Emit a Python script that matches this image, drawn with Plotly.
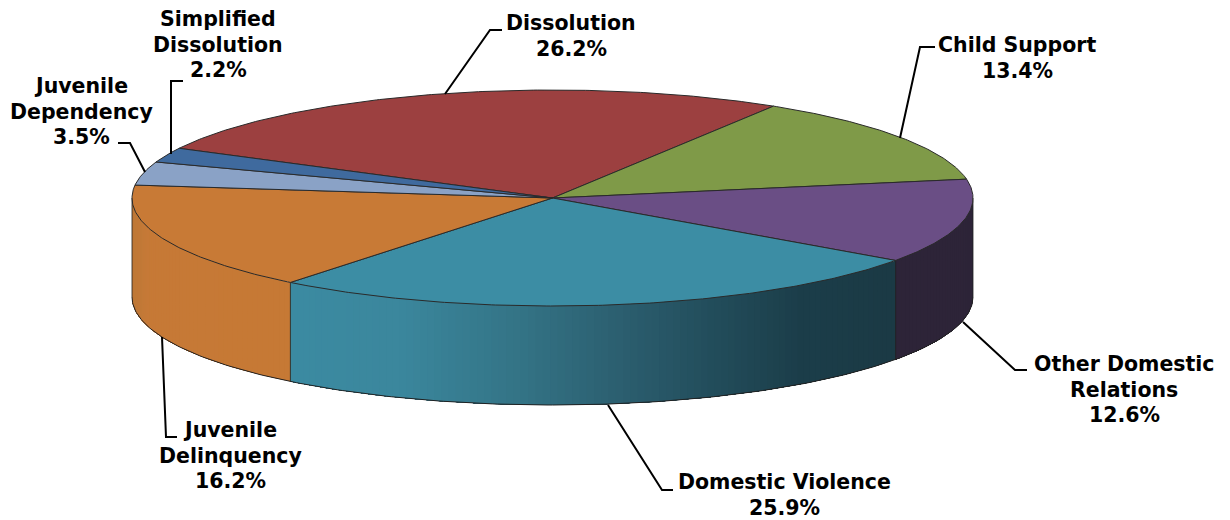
import numpy as np
import plotly.graph_objects as go

# ---- data ----
categories = ["Dissolution", "Child Support", "Other Domestic Relations", "Domestic Violence",
              "Juvenile Delinquency", "Juvenile Dependency", "Simplified Dissolution"]
shares = [26.2, 13.4, 12.6, 25.9, 16.2, 3.5, 2.2]

# ---- styles ----
top_colors = ["#9C4040", "#7F9A48", "#6A4E85", "#3C8DA4", "#C87A36", "#8AA2C6", "#3F6A9E"]
label_lines = [["Dissolution"], ["Child Support"], ["Other Domestic", "Relations"], ["Domestic Violence"],
               ["Juvenile", "Delinquency"], ["Juvenile", "Dependency"], ["Simplified", "Dissolution"]]
label_x = [571, 1017, 1124, 784, 230, 81, 218]
label_y0 = [23, 45, 364, 482, 430, 86, 19]
leaders = [[(445, 94), (490, 30), (502, 30)],
           [(900, 138), (920, 47), (935, 47)],
           [(963, 322), (1015, 370), (1027, 370)],
           [(608, 405), (662, 490), (673, 490)],
           [(162, 337), (166, 437), (177, 437)],
           [(145, 172), (130, 143), (118, 143)],
           [(171, 154), (171, 81), (183, 81)]]

CX, CY, RX, RY, DEPTH = 552.5, 198, 420.5, 108, 99
START = -62.6  # clockwise from 12 o'clock, first slice edge


def ex(t):
    return CX + RX * np.sin(np.radians(t))


def ey(t):
    return CY - RY * np.cos(np.radians(t))


def hex2rgb(h):
    return np.array([int(h[i:i + 2], 16) for i in (1, 3, 5)], float)


def ramp(stops, x):
    xs = [s[0] for s in stops]
    rgb = np.array([hex2rgb(s[1]) for s in stops])
    return "rgb(%d,%d,%d)" % tuple(np.interp(x, xs, rgb[:, i]) for i in range(3))


wall_ramps = {
    "Other Domestic Relations": [(893, "#2D2438"), (973, "#2D2438")],
    "Domestic Violence": [(287, "#3C8BA2"), (400, "#3B879D"), (520, "#347486"), (620, "#2C5F70"),
                          (720, "#224C5A"), (800, "#1C3E4A"), (893, "#1B3A45")],
    "Juvenile Delinquency": [(132, "#BE7838"), (150, "#C77A37"), (287, "#C67935")],
}

edges = START + np.cumsum([0] + [s * 3.6 for s in shares])
fig = go.Figure()

# front walls, clipped to the part of the rim that faces the viewer.
# Bands are painted in order, each overlapping the previous, so no seams show.
for i, name in enumerate(categories):
    if name not in wall_ramps:
        continue
    a0, a1 = max(edges[i], 90), min(edges[i + 1], 270)
    starts = np.arange(a0, a1, 1.0)
    for b0 in starts:
        b1 = a1
        col = ramp(wall_ramps[name], ex(min(b0 + 0.5, a1)))
        ts = np.linspace(b0, b1, max(int(b1 - b0) + 2, 2))
        fig.add_trace(go.Scatter(
            x=np.r_[ex(ts), ex(ts[::-1])],
            y=np.r_[ey(ts), ey(ts[::-1]) + DEPTH],
            mode="lines", fill="toself", fillcolor=col, line=dict(color=col, width=0),
            hoverinfo="skip", showlegend=False))

# outer outline of the walls and vertical seams
rim = np.linspace(90, 270, 241)
fig.add_trace(go.Scatter(x=ex(rim), y=ey(rim) + DEPTH, mode="lines", line=dict(color="#222222", width=1),
                         hoverinfo="skip", showlegend=False))
for t in [90, 270, edges[3], edges[4]]:
    fig.add_trace(go.Scatter(x=[ex(t), ex(t)], y=[ey(t), ey(t) + DEPTH], mode="lines",
                             line=dict(color="#222222", width=1), opacity=0.8,
                             hoverinfo="skip", showlegend=False))

# top faces
for i, name in enumerate(categories):
    ts = np.linspace(edges[i], edges[i + 1], max(int(shares[i] * 3.6 * 2), 4))
    fig.add_trace(go.Scatter(
        x=np.r_[CX, ex(ts), CX], y=np.r_[CY, ey(ts), CY],
        mode="lines", fill="toself", fillcolor=top_colors[i], line=dict(color="#2A2A2A", width=1),
        name=name, text=f"{name}: {shares[i]}%", hoverinfo="text", showlegend=False))

# leader lines and labels
for pts in leaders:
    fig.add_trace(go.Scatter(x=[p[0] for p in pts], y=[p[1] for p in pts], mode="lines",
                             line=dict(color="#000000", width=2), hoverinfo="skip", showlegend=False))

annotations = []
for i, name in enumerate(categories):
    for k, line in enumerate(label_lines[i] + [f"{shares[i]}%"]):
        annotations.append(dict(x=label_x[i], y=label_y0[i] + k * 25.5, text=f"<b>{line}</b>",
                                showarrow=False, xanchor="center", yanchor="middle", borderpad=0,
                                font=dict(family="DejaVu Sans", size=20.5, color="#000000")))

fig.update_layout(
    width=1230, height=520, margin=dict(l=0, r=0, t=0, b=0), autosize=False,
    paper_bgcolor="#FFFFFF", plot_bgcolor="#FFFFFF", showlegend=False,
    xaxis=dict(range=[0, 1230], visible=False, fixedrange=True),
    yaxis=dict(range=[520, 0], visible=False, fixedrange=True),
    annotations=annotations,
)
fig.write_html("out.html", config={"displayModeBar": False},
               post_script="document.body.style.margin='0';document.body.style.overflow='hidden';")
